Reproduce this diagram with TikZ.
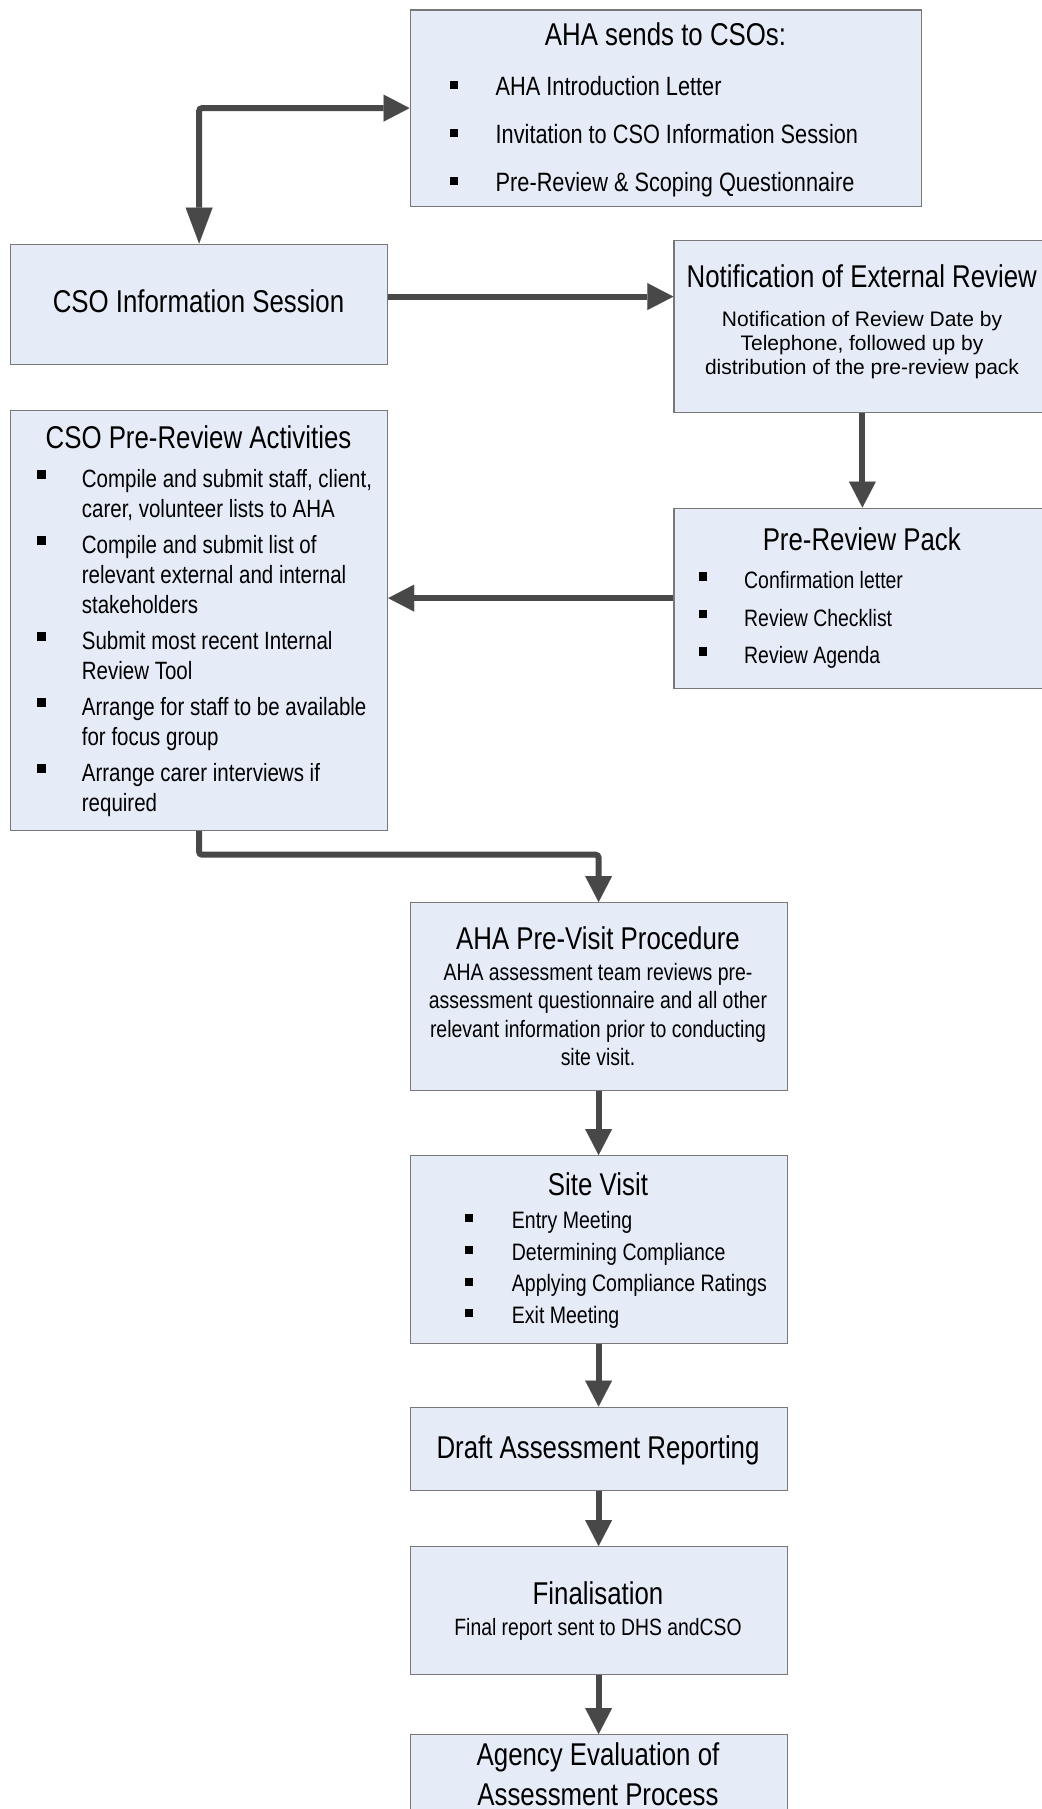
\documentclass[tikz,border=0pt]{standalone}
\usepackage{fontspec}
\setmainfont{Liberation Sans}
\newfontfamily\narrowsans[FakeStretch=0.82]{Liberation Sans}
\usetikzlibrary{arrows.meta}
\definecolor{boxfill}{RGB}{230,236,247}
\definecolor{boxline}{RGB}{120,120,120}
\definecolor{conncol}{RGB}{72,72,72}
\begin{document}
\begin{tikzpicture}[x=1pt,y=-1pt,
  box/.style={rectangle,draw=boxline,fill=boxfill,line width=1.2pt,inner sep=0pt,anchor=north west},
  ttl/.style={font=\narrowsans\fontsize{31.5}{36}\selectfont,anchor=base,inner sep=0pt},
  itm/.style={font=\narrowsans\fontsize{#1}{#1}\selectfont,anchor=base west,inner sep=0pt},
  bodyc/.style={font=\narrowsans\fontsize{#1}{#1}\selectfont,anchor=base,inner sep=0pt},
  regc/.style={font=\fontsize{21}{24}\selectfont,anchor=base,inner sep=0pt},
  bul/.style={rectangle,fill=black,inner sep=0pt,minimum size=#1},
  conn/.style={draw=conncol,line width=6pt,rounded corners=3pt,
    -{Triangle[length=26pt,width=27pt,line width=0.1pt]}}
]
\fill[white] (0,0) rectangle (1041,1809);
\useasboundingbox (0,0) rectangle (1041,1809);

% boxes
\node[box,minimum width=511.5pt,minimum height=196pt] (b1) at (409.5,9.5) {};
\node[box,minimum width=377pt,minimum height=120pt] (b2) at (10,243.5) {};
\node[box,minimum width=377pt,minimum height=171.5pt] (b3) at (673.3,240) {};
\node[box,minimum width=377pt,minimum height=420.5pt] (b4) at (10,409.5) {};
\node[box,minimum width=377pt,minimum height=180pt] (b5) at (673.3,507.5) {};
\node[box,minimum width=377pt,minimum height=188pt] (b6) at (409.5,902) {};
\node[box,minimum width=377pt,minimum height=187.5pt] (b7) at (409.5,1155) {};
\node[box,minimum width=377pt,minimum height=83pt] (b8) at (409.5,1406.5) {};
\node[box,minimum width=377pt,minimum height=128pt] (b9) at (409.5,1546) {};
\node[box,minimum width=377pt,minimum height=130pt] (b10) at (409.5,1734) {};

% connectors
\draw[conn,{Triangle[length=36pt,width=27pt,line width=0.1pt]}-{Triangle[length=26pt,width=27pt,line width=0.1pt]}]
  (b2.north) |- (b1.west);
\coordinate (c23) at ([yshift=7.5pt]b2.east);
\draw[conn] (c23) -- (c23 -| b3.west);
\draw[conn] (b3.south) -- (b5.north);
\draw[conn] (b5.west) -- (b5.west -| b4.east);
\draw[conn] (b4.south) -- ++(0,23.5) -| (b6.north);
\draw[conn] (b6.south) -- (b7.north);
\draw[conn] (b7.south) -- (b8.north);
\draw[conn] (b8.south) -- (b9.north);
\draw[conn] (b9.south) -- (b10.north);

% box 1
\node[ttl] (t1) at (665.5,45.5) {AHA sends to CSOs:};
\node[bul=8pt] (p11) at (453.8,85) {};
\node[bul=8pt] (p12) at (453.8,133) {};
\node[bul=8pt] (p13) at (453.8,181.3) {};
\node[itm=26.5] (i11) at (495.5,95.5) {AHA Introduction Letter};
\node[itm=26.5] (i12) at (495.5,143.5) {Invitation to CSO Information Session};
\node[itm=26.5] (i13) at (495.5,191.8) {Pre-Review \& Scoping Questionnaire};

% box 2
\node[ttl] (t2) at (198.5,312.7) {CSO Information Session};

% box 3
\node[ttl] (t3) at (861.8,287.3) {Notification of External Review};
\node[regc] (r31) at (862,326.5) {Notification of Review Date by};
\node[regc] (r32) at (862,350.3) {Telephone, followed up by};
\node[regc] (r33) at (862,374) {distribution of the pre-review pack};

% box 4
\node[ttl] (t4) at (198.5,448.5) {CSO Pre-Review Activities};
\node[bul=9pt] (p41) at (41.3,474) {};
\node[bul=9pt] (p42) at (41.3,540) {};
\node[bul=9pt] (p43) at (41.3,636) {};
\node[bul=9pt] (p44) at (41.3,702) {};
\node[bul=9pt] (p45) at (41.3,768) {};
\node[itm=25] (i41a) at (81.7,487.3) {Compile and submit staff, client,};
\node[itm=25] (i41b) at (81.7,517.3) {carer, volunteer lists to AHA};
\node[itm=25] (i42a) at (81.7,553.3) {Compile and submit list of};
\node[itm=25] (i42b) at (81.7,583.3) {relevant external and internal};
\node[itm=25] (i42c) at (81.7,613.3) {stakeholders};
\node[itm=25] (i43a) at (81.7,649.3) {Submit most recent Internal};
\node[itm=25] (i43b) at (81.7,679.3) {Review Tool};
\node[itm=25] (i44a) at (81.7,715.3) {Arrange for staff to be available};
\node[itm=25] (i44b) at (81.7,745.3) {for focus group};
\node[itm=25] (i45a) at (81.7,781.3) {Arrange carer interviews if};
\node[itm=25] (i45b) at (81.7,811.3) {required};

% box 5
\node[ttl] (t5) at (861.8,550) {Pre-Review Pack};
\node[bul=8.5pt] (p51) at (703,576.3) {};
\node[bul=8.5pt] (p52) at (703,614) {};
\node[bul=8.5pt] (p53) at (703,651.3) {};
\node[itm=23.7] (i51) at (744,588.3) {Confirmation letter};
\node[itm=23.7] (i52) at (744,626) {Review Checklist};
\node[itm=23.7] (i53) at (744,663.3) {Review Agenda};

% box 6
\node[ttl] (t6) at (598,949.3) {AHA Pre-Visit Procedure};
\node[bodyc=23.7] (d61) at (598,980) {AHA assessment team reviews pre-};
\node[bodyc=23.7] (d62) at (598,1008.5) {assessment questionnaire and all other};
\node[bodyc=23.7] (d63) at (598,1037) {relevant information prior to conducting};
\node[bodyc=23.7] (d64) at (598,1065.3) {site visit.};

% box 7
\node[ttl] (t7) at (598,1195) {Site Visit};
\node[bul=8pt] (p71) at (469,1218.3) {};
\node[bul=8pt] (p72) at (469,1250) {};
\node[bul=8pt] (p73) at (469,1281.7) {};
\node[bul=8pt] (p74) at (469,1313.3) {};
\node[itm=23.8] (i71) at (511.7,1228.3) {Entry Meeting};
\node[itm=23.8] (i72) at (511.7,1260) {Determining Compliance};
\node[itm=23.8] (i73) at (511.7,1291.7) {Applying Compliance Ratings};
\node[itm=23.8] (i74) at (511.7,1323.3) {Exit Meeting};

% box 8
\node[ttl] (t8) at (598,1458.3) {Draft Assessment Reporting};

% box 9
\node[ttl] (t9) at (598,1604) {Finalisation};
\node[bodyc=23.6] (d91) at (598,1635) {Final report sent to DHS andCSO};

% box 10
\node[ttl] (t10a) at (598,1765.5) {Agency Evaluation of};
\node[ttl] (t10b) at (598,1805) {Assessment Process};
\end{tikzpicture}
\end{document}
